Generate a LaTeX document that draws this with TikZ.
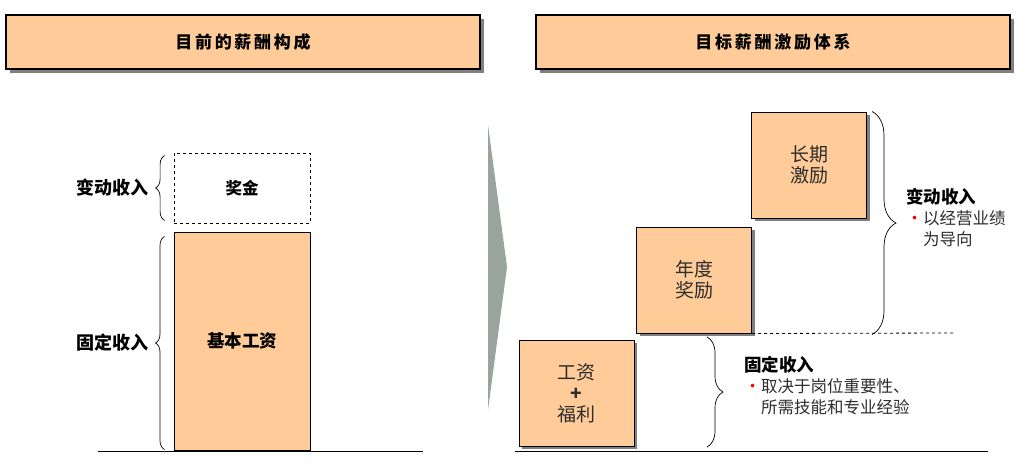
\documentclass[tikz,border=0pt]{standalone}
\usepackage{fontspec}
\setmainfont{Noto Sans CJK SC}
\newfontfamily\headFont[LetterSpace=16]{Noto Sans CJK SC}
\usepackage{tikz}
\usetikzlibrary{calc}
\usetikzlibrary{positioning}
\usetikzlibrary{shadows}
\usetikzlibrary{decorations.pathreplacing}
\definecolor{Peach}{RGB}{255,204,153}
\definecolor{ArrowGray}{RGB}{153,165,156}
\definecolor{TextGray}{RGB}{45,45,45}
\newcommand{\incomeLabel}[2]{\begin{tabular}{@{}l@{}}\textbf{\fontsize{17.5}{21}\selectfont#1}\\{\color{red}\fontsize{17}{17}\selectfont\textbullet}\begin{tabular}[t]{@{}l@{}}#2\end{tabular}\end{tabular}}
\tikzset{
	headBox/.style={draw, line width=1.2pt, fill=Peach, minimum width=474, minimum height=54,
		drop shadow={shadow xshift=4pt, shadow yshift=-4pt, fill=gray, opacity=1},
		font=\headFont\bfseries\fontsize{17}{18}\selectfont},
	payBox/.style={draw, line width=1pt, fill=Peach, minimum width=115, minimum height=106,
		drop shadow={shadow xshift=3pt, shadow yshift=-3pt, fill=gray, opacity=1},
		align=center, text=TextGray, font=\fontsize{19}{21}\selectfont},
	curlyBrace/.style={decorate, line width=0.7pt, decoration={brace, amplitude=#1}},
	sideLabel/.style={font=\bfseries\fontsize{18}{18}\selectfont, inner sep=0},
	noteLabel/.style={anchor=north west, inner sep=0, align=left, text=TextGray, font=\fontsize{16.5}{21}\selectfont}
}

\begin{document}
\begin{tikzpicture}[x=1pt, y=-1pt]
	\useasboundingbox (0,0) rectangle (1036,467);

		% headers
		\node [headBox] (curHead) at (243,42) {目前的薪酬构成};
		\node [headBox] (tgtHead) at (773,42) {目标薪酬激励体系};

		% current pay
		\node [draw, dashed, line width=0.8pt, minimum width=136, minimum height=70,
			font=\bfseries\fontsize{16.5}{18}\selectfont] (bonusBox) at (242,188) {奖金};
		\node [draw, line width=1pt, fill=Peach, minimum width=136, minimum height=218,
			font=\bfseries\fontsize{17.5}{18}\selectfont] (baseBox) at (242,341) {基本工资};

		\draw [curlyBrace=9pt] ($(bonusBox.south west)+(-9,-3)$) -- ($(bonusBox.north west)+(-9,3)$);
		\draw [curlyBrace=9pt] ($(baseBox.south west)+(-9,-1)$) -- ($(baseBox.north west)+(-9,5)$);
		\node [sideLabel, anchor=east] (varLeft) at (149,188) {变动收入};
		\node [sideLabel, anchor=east] (fixLeft) at (149,343) {固定收入};

		\coordinate (baseL) at (98,451);
		\coordinate (baseR) at (423,451);
		\draw [line width=0.8pt] (baseL) -- (baseR);

		% arrow
		\fill [ArrowGray] (488,125) -- (507,267) -- (488,410) -- cycle;

		% target pay
		\node [payBox] (wagePlus) at (576.5,393) {工资\\\textbf{+}\\福利};
		\node [payBox] (annualBonus) at (694,280) {年度\\奖励};
		\node [payBox] (longTerm) at (809,165) {长期\\激励};

		\coordinate (dashEnd) at (953,333);
		\draw [dashed, line width=0.8pt] (annualBonus.south east) -- (dashEnd);

		\draw [curlyBrace=24pt] ($(longTerm.north east)+(5,0)$) -- ($(longTerm.north east)+(5,223)$);
		\draw [curlyBrace=16pt] (707,337) -- (707,447);

		\node [noteLabel] (varNote) at (906,188) {\incomeLabel{\color{black}变动收入}{以经营业绩\\为导向}};
		\node [noteLabel] (fixNote) at (744,356) {\incomeLabel{\color{black}固定收入}{取决于岗位重要性、\\所需技能和专业经验}};

		\coordinate (tgtL) at (515,451);
		\coordinate (tgtR) at (988,451);
		\draw [line width=0.8pt] (tgtL) -- (tgtR);
	\end{tikzpicture}
\end{document}
